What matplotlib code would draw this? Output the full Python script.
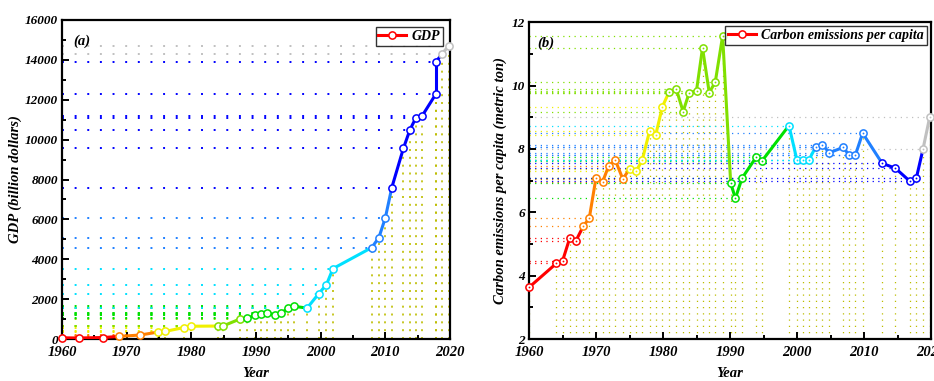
import numpy as np
import matplotlib
matplotlib.use('Agg')
import matplotlib.pyplot as plt
from matplotlib.lines import Line2D

# ---------------- data ----------------
gdp_years = [1960.0, 1962.6, 1966.4, 1968.8, 1972.1, 1974.9, 1976.0, 1978.8, 1979.9,
             1984.1, 1984.9, 1987.5, 1988.6, 1989.9, 1990.8, 1991.7, 1993.0, 1993.9,
             1995.0, 1995.9, 1997.9, 1999.7, 2000.9, 2001.9, 2007.9, 2009.0, 2010.0,
             2011.0, 2012.8, 2013.8, 2014.7, 2015.7, 2017.8, 2017.8, 2018.8, 2019.8]
gdp_values = [60, 50, 75, 130, 200, 350, 385, 570, 640,
              650, 655, 1000, 1030, 1200, 1230, 1320, 1200, 1300,
              1550, 1640, 1550, 2275, 2730, 3530, 4585, 5085, 6075,
              7595, 9570, 10490, 11080, 11195, 12280, 13890, 14310, 14710]

co2_years = [1960.0, 1964.1, 1965.0, 1966.1, 1967.0, 1968.1, 1969.0, 1970.0, 1971.0,
             1971.9, 1972.9, 1974.0, 1975.0, 1976.0, 1976.9, 1978.0, 1978.9, 1979.9,
             1980.9, 1982.0, 1983.0, 1983.9, 1985.0, 1985.9, 1986.9, 1987.8, 1988.9,
             1990.1, 1990.8, 1991.8, 1993.9, 1994.8, 1998.8, 2000.0, 2000.9, 2001.8,
             2002.8, 2003.8, 2004.8, 2006.9, 2007.8, 2008.7, 2009.8, 2012.7, 2014.7,
             2016.8, 2017.8, 2018.8, 2019.8]
co2_values = [3.63, 4.39, 4.46, 5.20, 5.10, 5.56, 5.82, 7.09, 6.97,
              7.47, 7.64, 7.05, 7.37, 7.30, 7.65, 8.57, 8.43, 9.33,
              9.80, 9.88, 9.18, 9.77, 9.84, 11.19, 9.78, 10.11, 11.57,
              6.93, 6.44, 7.08, 7.74, 7.63, 8.74, 7.64, 7.66, 7.66,
              8.07, 8.14, 7.88, 8.05, 7.80, 7.80, 8.50, 7.55, 7.39,
              6.99, 7.07, 7.99, 9.00]

# ---------------- style ----------------
palette = ['#ff0000', '#ff8000', '#f0f000', '#80e000', '#00e000',
           '#00e0ff', '#2080ff', '#0000ff', '#c0c0c0']
gdp_breaks = [1968, 1974, 1982, 1988, 1997, 2005, 2010.5, 2018.3]
co2_breaks = [1967.5, 1974.5, 1980.5, 1989.5, 1997, 2002.3, 2011, 2018.3]
olive = '#bdbd00'

plt.rcParams['font.family'] = ['Liberation Serif', 'DejaVu Serif']
plt.rcParams['font.style'] = 'italic'
plt.rcParams['font.weight'] = 'bold'
plt.rcParams['axes.labelweight'] = 'bold'

fig = plt.figure(figsize=(9.34, 3.81), dpi=100)
ax1 = fig.add_axes([62/934, 42/381, 388/934, 319/381])
ax2 = fig.add_axes([529/934, 42/381, 402/934, 316.7/381])


def draw(ax, xs, ys, breaks, xmin, ymin, hstyle, hlw, vstyle, vlw, center_dot):
    xs = np.asarray(xs, float)
    ys = np.asarray(ys, float)
    cols = [palette[i] for i in np.digitize(xs, breaks)]
    for x, y, c in zip(xs, ys, cols):
        ax.plot([xmin, x], [y, y], color=c, lw=hlw, ls=hstyle, zorder=1)
        ax.plot([x, x], [ymin, y], color=olive, lw=vlw, ls=vstyle, zorder=1)
    for i in range(len(xs) - 1):
        ax.plot(xs[i:i+2], ys[i:i+2], color=cols[i], lw=2.2,
                solid_capstyle='round', zorder=3)
    for x, y, c in zip(xs, ys, cols):
        ax.plot(x, y, 'o', ms=5.2, mfc='white', mec=c, mew=1.1, zorder=4, clip_on=False)
        if center_dot:
            ax.plot(x, y, 'o', ms=1.3, mfc=c, mec=c, mew=0, zorder=5, clip_on=False)


draw(ax1, gdp_years, gdp_values, gdp_breaks, 1960, 0,
     (0, (1, 5.5)), 1.4, (0, (1.2, 3.5)), 1.2, False)
draw(ax2, co2_years, co2_values, co2_breaks, 1960, 2,
     (0, (1, 3.5)), 0.9, (0, (1, 4)), 0.9, True)

ax1.set_xlim(1960, 2020)
ax1.set_ylim(0, 16000)
ax1.set_xticks(np.arange(1960, 2021, 10))
ax1.set_xticks(np.arange(1965, 2020, 10), minor=True)
ax1.set_yticks(np.arange(0, 16001, 2000))
ax1.set_yticks(np.arange(1000, 16000, 2000), minor=True)

ax2.set_xlim(1960, 2020)
ax2.set_ylim(2, 12)
ax2.set_xticks(np.arange(1960, 2021, 10))
ax2.set_xticks(np.arange(1965, 2020, 10), minor=True)
ax2.set_yticks(np.arange(2, 12.1, 2))
ax2.set_yticks(np.arange(3, 12, 2), minor=True)

for ax in (ax1, ax2):
    for s in ax.spines.values():
        s.set_linewidth(1.6)
    ax.tick_params(which='both', direction='in', top=False, right=False, width=1.4)
    ax.tick_params(which='major', length=5)
    ax.tick_params(which='minor', length=3)
    ax.tick_params(axis='x', labelsize=10.5, pad=5)
    ax.tick_params(axis='y', labelsize=9.5, pad=3)
    ax.set_xlabel('Year', fontsize=10.5, labelpad=6)

ax1.set_ylabel('GDP (billion dollars)', fontsize=10.5, labelpad=2)
ax2.set_ylabel('Carbon emissions per capita (metric ton)', fontsize=10.5, labelpad=3)

ax1.text(0.03, 0.955, '(a)', transform=ax1.transAxes, fontsize=10.5, va='top', ha='left')
ax2.text(0.02, 0.955, '(b)', transform=ax2.transAxes, fontsize=10.5, va='top', ha='left')

h1 = Line2D([], [], color='red', lw=2.2, marker='o', ms=5.2, mfc='white', mec='red', mew=1.1)
leg1 = ax1.legend([h1], ['GDP'], loc='upper right', fontsize=10, frameon=True,
                  fancybox=False, edgecolor='black', handlelength=2.0,
                  borderpad=0.2, handletextpad=0.4, borderaxespad=0.5)
leg1.get_frame().set_linewidth(1.0)
h2 = Line2D([], [], color='red', lw=2.2, marker='o', ms=5.2, mfc='white', mec='red', mew=1.1)
leg2 = ax2.legend([h2], ['Carbon emissions per capita'], loc='upper right', fontsize=10,
                  frameon=True, fancybox=False, edgecolor='black', handlelength=2.0,
                  borderpad=0.2, handletextpad=0.4, borderaxespad=0.3)
leg2.get_frame().set_linewidth(1.0)

fig.savefig('out.png', dpi=100)
